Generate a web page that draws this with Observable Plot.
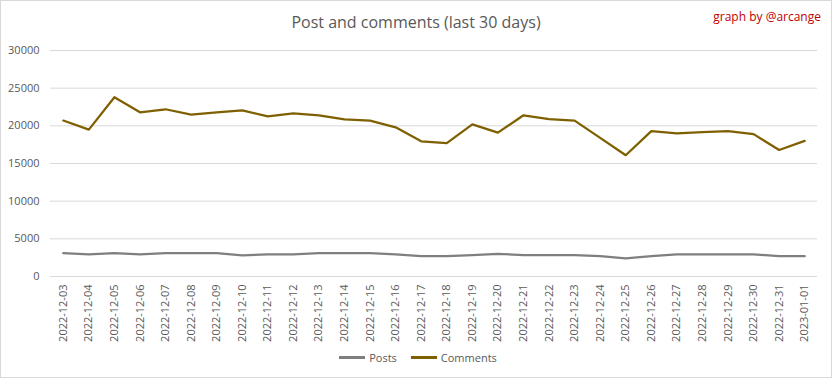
<!DOCTYPE html>
<html>
<head>
<meta charset="utf-8">
<script src="https://cdn.jsdelivr.net/npm/d3@7"></script>
<script src="https://cdn.jsdelivr.net/npm/@observablehq/plot@0.6"></script>
<style>
  html, body { margin: 0; padding: 0; background: #fff; }
  #frame { position: relative; width: 830px; height: 376px; border: 1px solid #d9d9d9; background: #fff; font-family: "Open Sans", "Liberation Sans", sans-serif; overflow: hidden; }
  #title { position: absolute; top: 10px; left: 0; width: 830px; text-align: center; font-size: 16px; color: #595959; font-family: "Open Sans", sans-serif; }
  #credit { position: absolute; top: 7px; right: 10px; font-size: 12px; color: #c00000; }
  #chart { position: absolute; top: 38px; left: 0; }
  #legend { position: absolute; top: 349px; left: 2px; width: 830px; display: flex; justify-content: center; gap: 14px; font-size: 11px; color: #595959; }
  .item { display: flex; align-items: center; gap: 4px; }
  .swatch { width: 26px; height: 2.5px; }
</style>
</head>
<body>
<div id="frame">
  <div id="title">Post and comments (last 30 days)</div>
  <div id="credit">graph by @arcange</div>
  <div id="chart"></div>
  <div id="legend"></div>
</div>
<script>
const dates = ["2022-12-03","2022-12-04","2022-12-05","2022-12-06","2022-12-07","2022-12-08","2022-12-09","2022-12-10","2022-12-11","2022-12-12","2022-12-13","2022-12-14","2022-12-15","2022-12-16","2022-12-17","2022-12-18","2022-12-19","2022-12-20","2022-12-21","2022-12-22","2022-12-23","2022-12-24","2022-12-25","2022-12-26","2022-12-27","2022-12-28","2022-12-29","2022-12-30","2022-12-31","2023-01-01"];
const posts = [3100,2950,3100,2950,3100,3100,3100,2800,2950,2950,3100,3100,3100,2950,2700,2700,2850,3000,2850,2850,2850,2700,2400,2700,2950,2950,2950,2950,2700,2700];
const comments = [20700,19500,23800,21800,22200,21500,21800,22050,21250,21650,21400,20850,20700,19800,17950,17700,20200,19100,21400,20900,20700,18400,16100,19300,19000,19150,19300,18900,16800,18000];
const yTicks = [0,5000,10000,15000,20000,25000,30000];
const seriesNames = ["Posts","Comments"];
const seriesColors = ["#7f7f7f","#7f6000"];

const rows = [];
dates.forEach((d, i) => {
  rows.push({date: d, value: posts[i], series: seriesNames[0]});
  rows.push({date: d, value: comments[i], series: seriesNames[1]});
});

const chart = Plot.plot({
  width: 830,
  height: 310,
  marginTop: 11,
  marginBottom: 73,
  marginLeft: 49,
  marginRight: 14,
  style: {fontFamily: "'Open Sans', sans-serif", fontSize: "11px", color: "#595959", background: "transparent"},
  x: {type: "point", domain: dates, padding: 0.5, round: false, label: null},
  y: {domain: [0, 30000], ticks: yTicks, label: null},
  color: {domain: seriesNames, range: seriesColors},
  marks: [
    Plot.gridY(yTicks, {stroke: "#d9d9d9", strokeOpacity: 1, strokeWidth: 1}),
    Plot.axisY(yTicks, {tickSize: 0, tickPadding: 11, tickFormat: d => String(d), fill: "#595959", label: null, fontSize: 11}),
    Plot.axisX({tickSize: 0, tickRotate: -90, tickPadding: 8, fill: "#595959", label: null, fontSize: 11}),
    Plot.line(rows, {x: "date", y: "value", z: "series", stroke: "series", strokeWidth: 2.25, curve: "linear"})
  ]
});
document.getElementById("chart").appendChild(chart);

const legend = document.getElementById("legend");
seriesNames.forEach((name, i) => {
  const item = document.createElement("div");
  item.className = "item";
  const sw = document.createElement("div");
  sw.className = "swatch";
  sw.style.background = seriesColors[i];
  const label = document.createElement("span");
  label.textContent = name;
  item.appendChild(sw);
  item.appendChild(label);
  legend.appendChild(item);
});
</script>
</body>
</html>
